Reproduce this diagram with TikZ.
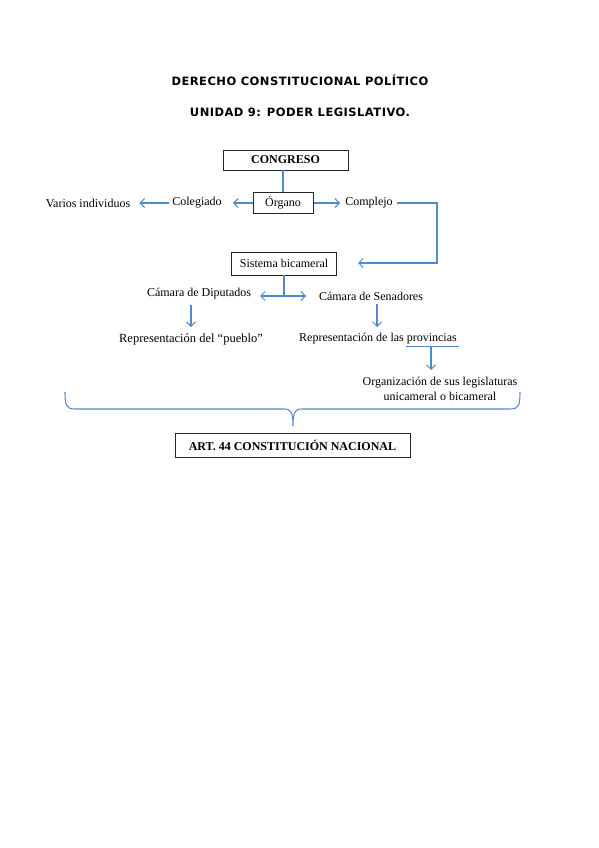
\documentclass[tikz,border=0pt]{standalone}
\usepackage{fontspec}
\setmainfont{Liberation Serif}
\newfontfamily\titlefont[LetterSpace=4]{DejaVu Sans}
\usetikzlibrary{arrows.meta}
\definecolor{lineblue}{HTML}{5089CF}
\tikzset{
  box/.style={draw=black!85, line width=0.8pt, minimum height=21pt, inner xsep=8pt, font=\fontsize{12}{14}\selectfont},
  lbl/.style={inner sep=1pt, font=\fontsize{12}{14}\selectfont},
  conn/.style={draw=lineblue, line width=1.05pt},
  arr/.style={conn, -{Straight Barb[length=4.5pt,width=9pt]}},
  ttl/.style={font=\titlefont\bfseries\fontsize{11.5}{13}\selectfont}
}
\begin{document}
\begin{tikzpicture}[x=1pt,y=-1pt]
\useasboundingbox (0,0) rectangle (599,848);
\node[ttl] (t1) at (300,80) {DERECHO CONSTITUCIONAL POLÍTICO};
\node[ttl] (t2) at (300,112) {UNIDAD 9: PODER LEGISLATIVO.};

\node[box, minimum width=125pt, minimum height=20pt] (cong) at (285.5,160) {\bfseries CONGRESO};
\node[box, minimum width=60pt] (org) at (283,203) {Órgano};
\node[lbl] (coleg) at (197,203) {Colegiado};
\node[lbl] (varios) at (88,203) {Varios individuos};
\node[lbl] (compl) at (369,203) {Complejo};
\node[box, minimum width=104pt, minimum height=23pt] (sist) at (284,263.5) {Sistema bicameral};
\node[lbl] (dip) at (199,294) {Cámara de Diputados};
\node[lbl] (sen) at (371,296) {Cámara de Senadores};
\node[lbl, font=\fontsize{12.5}{14}\selectfont] (pueblo) at (191,339) {Representación del “pueblo”};
\node[lbl] (prov) at (378,339) {Representación de las provincias};
\node[lbl, align=center, font=\fontsize{12}{15}\selectfont] (legis) at (440,388.5) {Organización de sus legislaturas\\unicameral o bicameral};
\node[box, minimum width=235pt, minimum height=24pt] (art) at (292.5,445) {\bfseries ART. 44 CONSTITUCIÓN NACIONAL};

\draw[conn] (cong.south -| org.north) -- (org.north);
\draw[arr, shorten >=10pt] (org.west) -- (coleg.east);
\draw[arr, shorten <=2pt, shorten >=8pt] (coleg.west) -- (varios.east);
\draw[arr, shorten <=1pt, shorten >=4pt] (org.east) -- (compl.west);
\coordinate (c1) at (437,203);
\coordinate (c2) at (437,263);
\coordinate (c3) at (358,263);
\draw[arr, shorten <=3pt] (compl.east) -- (c1) -- (c2) -- (c3);
\coordinate (split) at (284,296);
\coordinate (dl) at (260,296);
\coordinate (dr) at (306,296);
\draw[conn] (sist.south) -- (split);
\draw[arr] (split) -- (dl);
\draw[arr] (split) -- (dr);
\coordinate (d1) at (191,305);
\coordinate (d2) at (191,327);
\draw[arr] (d1) -- (d2);
\coordinate (s1) at (377,304);
\coordinate (s2) at (377,327);
\draw[arr] (s1) -- (s2);
\coordinate (u1) at (406,346.5);
\coordinate (u2) at (459,346.5);
\coordinate (u3) at (431,346.5);
\coordinate (u4) at (431,370);
\draw[conn] (u1) -- (u2);
\draw[arr] (u3) -- (u4);
% brace
\coordinate (bl) at (65,392);
\coordinate (br) at (520,392);
\coordinate (btip) at (293,426);
\draw[conn] (bl) .. controls (65,405) and (66,409) .. (75,409) -- (284,409) .. controls (291,409) and (293,412) .. (btip)
  .. controls (293,412) and (295,409) .. (302,409) -- (510,409) .. controls (519,409) and (520,405) .. (br);
\end{tikzpicture}
\end{document}
